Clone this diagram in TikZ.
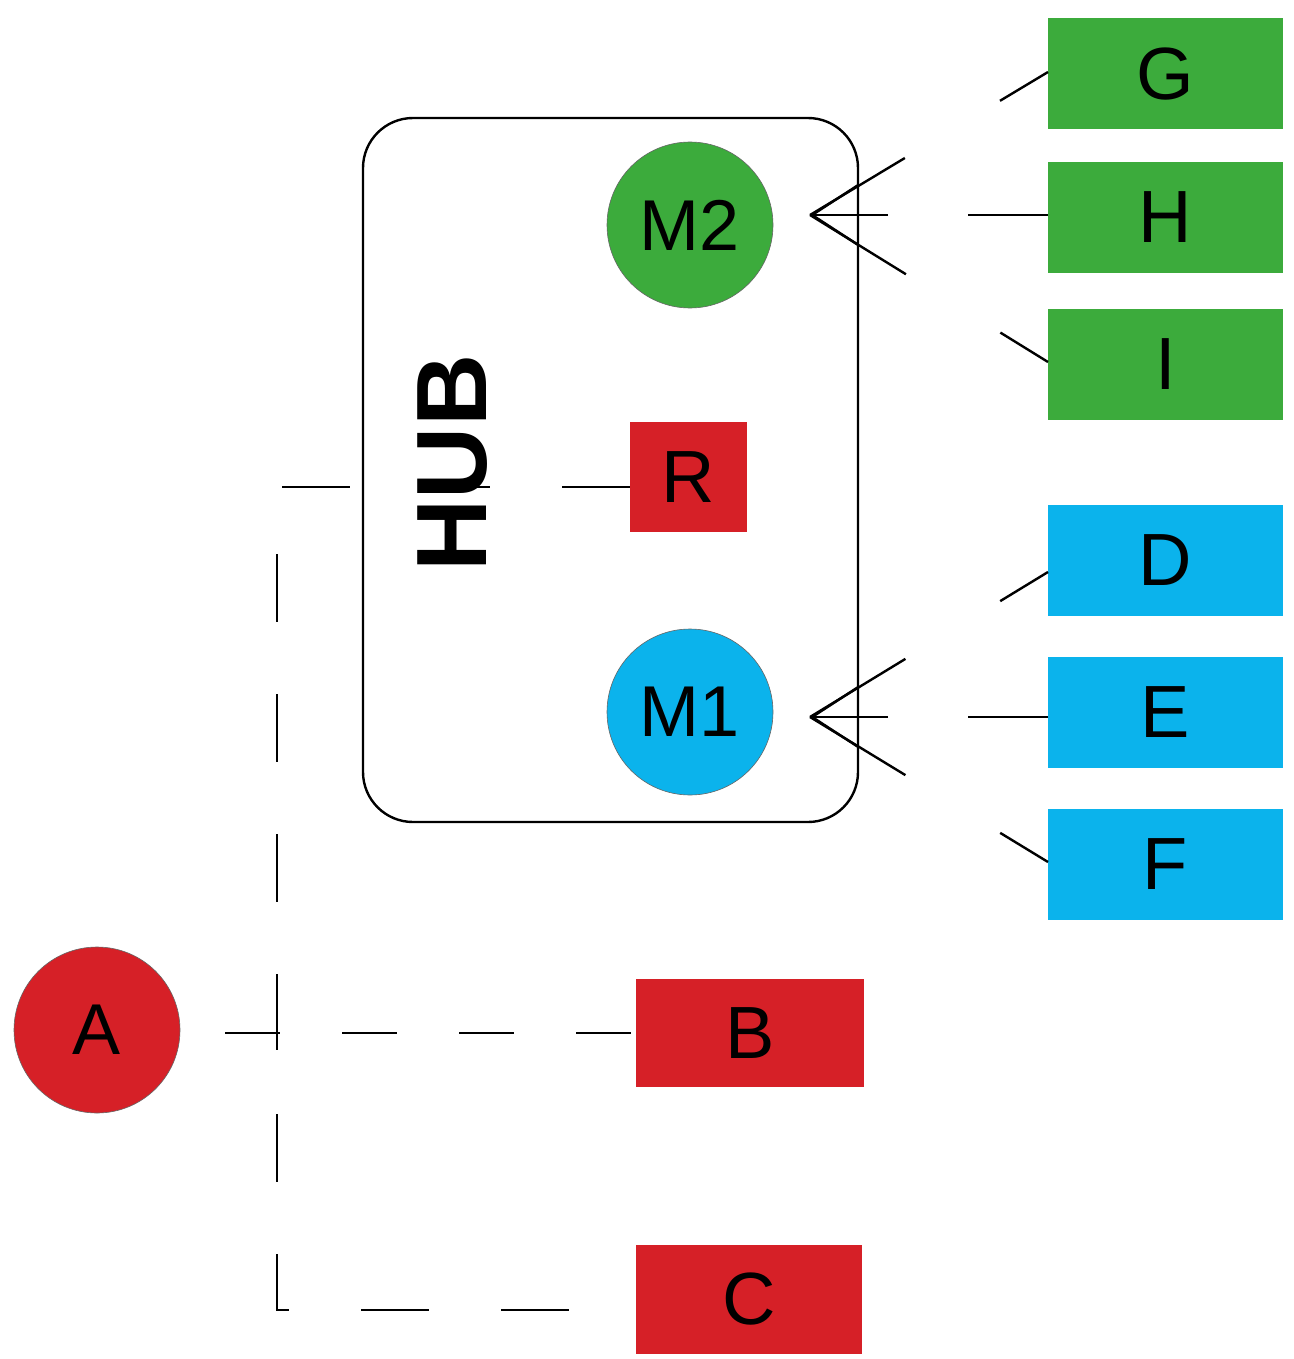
\documentclass[tikz,border=0pt]{standalone}
\usepackage{fontspec}
\setmainfont{Liberation Sans}
\usetikzlibrary{arrows.meta}
\definecolor{gr}{HTML}{3CAB3C}
\definecolor{bl}{HTML}{0BB3EC}
\definecolor{rd}{HTML}{D62027}
\begin{document}
\begin{tikzpicture}[x=1pt,y=-1pt,
  box/.style={draw=none,minimum width=235pt,minimum height=111pt,font=\fontsize{74}{74}\selectfont,inner sep=0pt},
  circ/.style={circle,draw=black!60,line width=0.6pt,minimum size=166pt,inner sep=0pt,font=\fontsize{72}{72}\selectfont},
  ln/.style={line width=2.4pt},
  ds/.style={ln,dash pattern=on 56pt off 111pt on 120pt},
  dh/.style={ln,dash pattern=on 80pt off 80pt on 90pt}]
\useasboundingbox (0,0) rectangle (1293,1359);
\node[draw,line width=2.4pt,rounded corners=50pt,minimum width=495pt,minimum height=704pt] (hub) at (610.5,470) {};
\node[rotate=90,font=\fontsize{100}{100}\selectfont\bfseries] (hubt) at (453,463) {HUB};
\node[circ,fill=gr] (M2) at (690,225) {M2};
\node[circ,fill=bl] (M1) at (690,712) {M1};
\node[circ,fill=rd] (A) at (97,1030) {A};
\node[box,fill=rd,minimum width=117pt,minimum height=110pt] (R) at (688.5,477) {R};
\node[box,fill=gr] (G) at (1165.5,74) {G};
\node[box,fill=gr] (H) at (1165.5,217.5) {H};
\node[box,fill=gr] (I) at (1165.5,364.5) {I};
\node[box,fill=bl] (D) at (1165.5,560.5) {D};
\node[box,fill=bl] (E) at (1165.5,712.5) {E};
\node[box,fill=bl] (F) at (1165.5,864.5) {F};
\node[box,fill=rd,minimum width=228pt,minimum height=108pt] (B) at (750,1033) {B};
\node[box,fill=rd,minimum width=226pt,minimum height=109pt] (C) at (749,1299.5) {C};
\coordinate (t2) at (810,215);
\coordinate (t1) at (810,717);
\draw[ds] (1048,72) -- (t2);
\draw[ds] (1048,362) -- (t2);
\draw[dh,-{Straight Barb[length=46pt,width=60pt,line width=2.4pt]}] (1048,215) -- (t2);
\draw[ds] (1048,572) -- (t1);
\draw[ds] (1048,862) -- (t1);
\draw[dh,-{Straight Barb[length=46pt,width=60pt,line width=2.4pt]}] (1048,717) -- (t1);
\coordinate (c1) at (277,487);
\coordinate (c2) at (277,1310);
\draw[ln,dash pattern=on 68pt off 72pt] (R.west |- 0,487) -- (c1) -- (c2) -- (C.west |- 0,1310);
\coordinate (a1) at (225,1033);
\draw[ln,dash pattern=on 55pt off 62pt] (a1) -- (B.west);
\draw[ln] (277,1018) -- (277,1050);
\end{tikzpicture}
\end{document}
